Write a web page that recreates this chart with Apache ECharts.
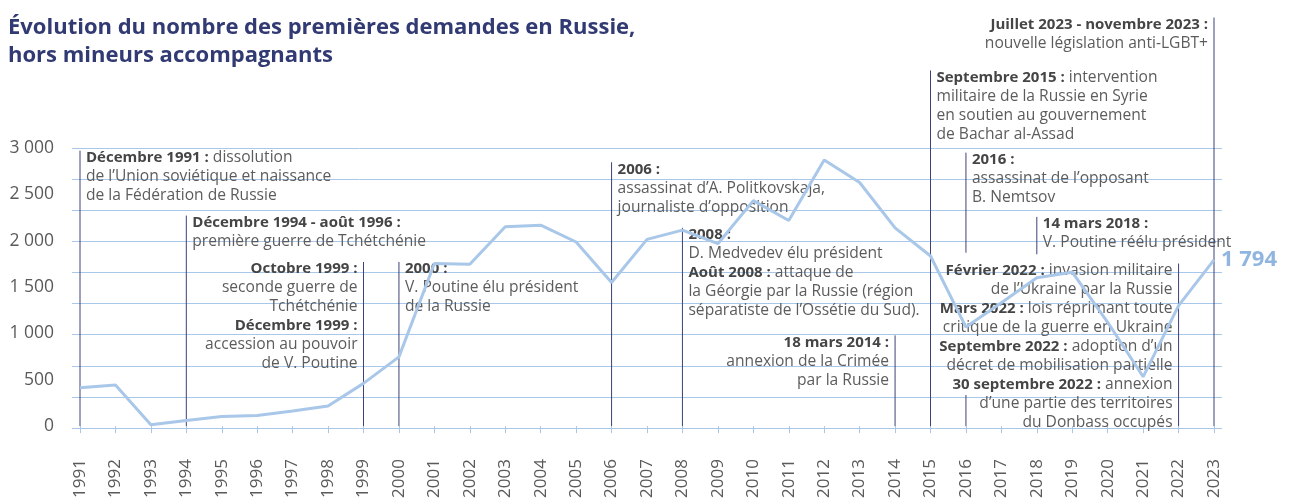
<!DOCTYPE html>
<html>
<head>
<meta charset="utf-8">
<script src="https://cdn.jsdelivr.net/npm/echarts@6/dist/echarts.min.js"></script>
<style>
  html, body { margin: 0; padding: 0; background: #fff; }
  #chart { width: 1294px; height: 501px; }
</style>
</head>
<body>
<div id="chart"></div>
<script>
// années et premières demandes (hors mineurs accompagnants)
const years = ['1991', '1992', '1993', '1994', '1995', '1996', '1997', '1998', '1999', '2000',
  '2001', '2002', '2003', '2004', '2005', '2006', '2007', '2008', '2009', '2010',
  '2011', '2012', '2013', '2014', '2015', '2016', '2017', '2018', '2019', '2020',
  '2021', '2022', '2023']
const demandes = [415, 443, 14, 60, 104, 115, 164, 218, 461, 747,
  1754, 1746, 2150, 2168, 1986, 1550, 2014, 2114, 1968, 2432,
  2218, 2871, 2628, 2139, 1835, 1068, 1330, 1600, 1660, 1120,
  532, 1300, 1794]

// repères chronologiques : année, haut et bas du trait (en nombre de demandes)
const eventYears = ['1991', '1994', '1999', '2000', '2006', '2008', '2014', '2015', '2016', '2016', '2018', '2022', '2023']
const eventTops = [2971, 2271, 1771, 1771, 2846, 2139, 979, 3836, 2950, 336, 2257, 1754, 4407]
const eventBottoms = [0, 0, 0, 0, 0, 0, 0, 0, 1871, 0, 1854, 0, 0]
const eventTexts = [
  '{b|Décembre 1991 :} dissolution\nde l’Union soviétique et naissance\nde la Fédération de Russie',
  '{b|Décembre 1994 - août 1996 :}\npremière guerre de Tchétchénie',
  '{b|Octobre 1999 :}\nseconde guerre de\nTchétchénie\n{b|Décembre 1999 :}\naccession au pouvoir\nde V. Poutine',
  '{b|2000 :}\nV. Poutine élu président\nde la Russie',
  '{b|2006 :}\nassassinat d’A. Politkovskaja,\njournaliste d’opposition',
  '{b|2008 :}\nD. Medvedev élu président\n{b|Août 2008 :} attaque de\nla Géorgie par la Russie (région\nséparatiste de l’Ossétie du Sud).',
  '{b|18 mars 2014 :}\nannexion de la Crimée\npar la Russie',
  '{b|Septembre 2015 :} intervention\nmilitaire de la Russie en Syrie\nen soutien au gouvernement\nde Bachar al-Assad',
  '{b|2016 :}\nassassinat de l’opposant\nB. Nemtsov',
  '',
  '{b|14 mars 2018 :}\nV. Poutine réélu président',
  '{b|Février 2022 :} invasion militaire\nde l’Ukraine par la Russie\n{b|Mars 2022 :} lois réprimant toute\ncritique de la guerre en Ukraine\n{b|Septembre 2022 :} adoption d’un\ndécret de mobilisation partielle\n{b|30 septembre 2022 :} annexion\nd’une partie des territoires\ndu Donbass occupés',
  '{b|Juillet 2023 - novembre 2023 :}\nnouvelle législation anti-LGBT+'
]
// texte à gauche du trait pour ces repères
const textOnLeft = ['1999', '2014', '2022', '2023']

const FONT = 'Open Sans'
const BLUE = '#a9c7e8'
const NAVY = '#3b4377'

function fmt(v) {
  return String(v).replace(/\B(?=(\d{3})+(?!\d))/g, ' ')
}

const eventData = eventYears.map(function (y, i) {
  return [years.indexOf(y), eventTops[i], eventBottoms[i], i]
})

const chart = echarts.init(document.getElementById('chart'))

const option = {
  animation: false,
  title: {
    text: 'Évolution du nombre des premières demandes en Russie,\nhors mineurs accompagnants',
    left: 8,
    top: 14,
    padding: 0,
    textStyle: {
      fontFamily: FONT,
      fontSize: 22,
      fontWeight: 'bold',
      color: '#313a72',
      lineHeight: 28
    }
  },
  grid: [
    { left: 80, right: 80, top: 148, bottom: 73 },
    { left: 72, right: 72, top: 148, bottom: 73 }
  ],
  xAxis: [
    {
      type: 'category',
      gridIndex: 0,
      data: years,
      boundaryGap: false,
      offset: 9,
      axisLine: { show: false },
      axisTick: { show: true, length: 7, lineStyle: { color: BLUE } },
      axisLabel: {
        rotate: 90,
        margin: 24,
        fontFamily: FONT,
        fontSize: 17,
        color: '#5a5a5a'
      },
      splitLine: { show: false }
    },
    { type: 'value', gridIndex: 1, min: 0, max: 1, show: false }
  ],
  yAxis: [
    {
      type: 'value',
      gridIndex: 0,
      min: 0,
      max: 3000,
      interval: 500,
      axisLine: { show: false },
      axisTick: { show: false },
      splitLine: { show: false },
      axisLabel: {
        margin: 26,
        fontFamily: FONT,
        fontSize: 17.5,
        color: '#5a5a5a',
        formatter: fmt
      }
    },
    {
      type: 'value',
      gridIndex: 1,
      min: 0,
      max: 3000,
      interval: 1000 / 3,
      axisLine: { show: false },
      axisTick: { show: false },
      axisLabel: { show: false },
      splitLine: { show: true, lineStyle: { color: BLUE, width: 1 } }
    }
  ],
  series: [
    {
      name: 'repères',
      type: 'custom',
      xAxisIndex: 0,
      yAxisIndex: 0,
      z: 3,
      clip: false,
      data: eventData,
      renderItem: function (params, api) {
        const idx = api.value(3)
        const top = api.coord([api.value(0), api.value(1)])
        const bottom = api.coord([api.value(0), api.value(2)])
        const left = textOnLeft.indexOf(eventYears[idx]) >= 0
        const children = [{
          type: 'line',
          shape: { x1: top[0], y1: top[1], x2: bottom[0], y2: bottom[1] },
          style: { stroke: NAVY, lineWidth: 1 }
        }]
        if (eventTexts[idx]) {
          children.push({
            type: 'text',
            x: left ? top[0] - 6 : top[0] + 6,
            y: top[1] - 2.5,
            style: {
              text: eventTexts[idx],
              align: left ? 'right' : 'left',
              verticalAlign: 'top',
              fontFamily: FONT,
              fontSize: 15.6,
              lineHeight: 19,
              fill: '#5c5c5c',
              rich: {
                b: {
                  fontFamily: FONT,
                  fontSize: 15,
                  lineHeight: 19,
                  fontWeight: 'bold',
                  fill: '#454545',
                  align: left ? 'right' : 'left'
                }
              }
            }
          })
        }
        return { type: 'group', children: children }
      }
    },
    {
      name: 'Premières demandes',
      type: 'line',
      xAxisIndex: 0,
      yAxisIndex: 0,
      z: 4,
      data: demandes,
      symbol: 'none',
      lineStyle: { color: BLUE, width: 3 },
      endLabel: {
        show: true,
        distance: 7,
        formatter: function (p) { return fmt(p.value) },
        fontFamily: FONT,
        fontSize: 22,
        fontWeight: 'bold',
        color: '#8fb5e0'
      }
    }
  ]
}

chart.setOption(option)
window.addEventListener('resize', function () {
  chart.resize()
})
</script>
</body>
</html>
